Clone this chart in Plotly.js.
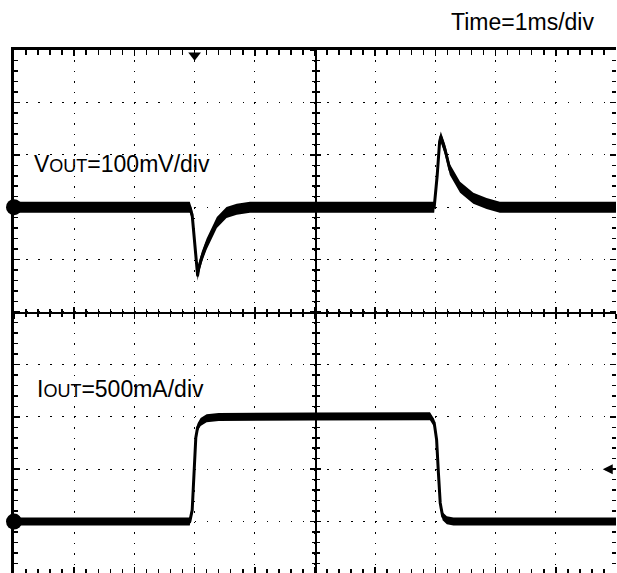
<!DOCTYPE html>
<html>
<head>
<meta charset="utf-8">
<script src="https://cdn.plot.ly/plotly-3.0.1.min.js"></script>
<style>
html,body{margin:0;padding:0;background:#fff;}
#chart{width:617px;height:573px;}
.scatterlayer .js-line{stroke-linejoin:round;stroke-linecap:round;}
</style>
</head>
<body>
<div id="chart"></div>
<script>
// ---- data (time in ms, Vout deviation in mV, Iout in mA) ----
const VOUT_T_MS = [0, 2.92, 2.96, 3.01, 3.05, 3.07, 3.12, 3.20, 3.37, 3.53, 3.70, 3.92, 6.98, 7.03, 7.07, 7.09, 7.16, 7.24, 7.41, 7.63, 7.85, 8.07, 10];
const VOUT_MV   = [0, 0, -15, -72, -130, -116, -95, -70, -29, -10, -4, 0, 0, 61, 125, 134, 110, 72, 38, 17, 7, 0, 0];
const IOUT_T_MS = [0, 2.92, 2.96, 2.99, 3.02, 3.05, 3.10, 3.20, 3.40, 5.0, 6.91, 6.98, 7.02, 7.05, 7.08, 7.12, 7.19, 7.30, 10];
const IOUT_MA   = [0, 0, 110, 480, 800, 900, 950, 985, 998, 1003, 1005, 942, 782, 465, 178, 50, 12, 0, 0];

const VOUT_MV_PER_DIV = 100;
const IOUT_MA_PER_DIV = 500;
const VOUT_OFFSET_DIV = 2;
const IOUT_OFFSET_DIV = -4;
const MS_PER_DIV = 1;
const TRIGGER_MS = 3;
const TRIGGER_LEVEL_MA = 500;
const LABELS = ['Time=1ms/div', 'V<span style="font-size:18px">OUT</span>=100mV/div', 'I<span style="font-size:18px">OUT</span>=500mA/div'];

// ---- build ----
const XR = [0, 10];
const YR = [-5 + 1/52.4, 5];
const vY = VOUT_MV.map(v => VOUT_OFFSET_DIV + v / VOUT_MV_PER_DIV);
const iY = IOUT_MA.map(v => IOUT_OFFSET_DIV + v / IOUT_MA_PER_DIV);
const vX = VOUT_T_MS.map(t => t / MS_PER_DIV);
const iX = IOUT_T_MS.map(t => t / MS_PER_DIV);

// noise band (vertical half-thickness in divisions) drawn as a filled envelope around each trace
function band(xs, ys, half) {
  const bx = xs.concat(xs.slice().reverse());
  const by = ys.map(y => y + half).concat(ys.slice().reverse().map(y => y - half));
  return {x: bx, y: by, mode: 'lines', fill: 'toself', fillcolor: '#000', line: {width: 0, color: '#000'}, hoverinfo: 'skip'};
}

const FONT = 'Liberation Sans, Arial, sans-serif';
const traces = [
  band(vX, vY, 5.5 / 52.4),
  {x: vX, y: vY, mode: 'lines', line: {color: '#000', width: 3}, hoverinfo: 'skip'},
  band(iX, iY, 4 / 52.4),
  {x: iX, y: iY, mode: 'lines', line: {color: '#000', width: 3}, hoverinfo: 'skip'},
  // channel ground markers
  {x: [XR[0], XR[0]], y: [VOUT_OFFSET_DIV, IOUT_OFFSET_DIV], mode: 'markers',
   marker: {color: '#000', size: 16}, cliponaxis: false, hoverinfo: 'skip'},
  // trigger position marker
  {x: [TRIGGER_MS / MS_PER_DIV], y: [YR[1] - 0.1], mode: 'markers',
   marker: {color: '#000', size: 11, symbol: 'triangle-down'}, cliponaxis: false, hoverinfo: 'skip'},
  // invisible carriers for the extra graticule axes
  {x: vX, y: vY, mode: 'none', xaxis: 'x2', yaxis: 'y', hoverinfo: 'skip'},
  {x: vX, y: vY, mode: 'none', xaxis: 'x3', yaxis: 'y', hoverinfo: 'skip'},
  {x: vX, y: vY, mode: 'none', xaxis: 'x4', yaxis: 'y', hoverinfo: 'skip'},
  {x: vX, y: vY, mode: 'none', xaxis: 'x', yaxis: 'y2', hoverinfo: 'skip'},
  {x: vX, y: vY, mode: 'none', xaxis: 'x', yaxis: 'y3', hoverinfo: 'skip'},
  {x: vX, y: vY, mode: 'none', xaxis: 'x', yaxis: 'y4', hoverinfo: 'skip'}
];

const minorT = (dir, len) => ({dtick: 0.2, tick0: 0, ticks: dir, ticklen: len, tickwidth: 1.5, tickcolor: '#000', showgrid: false});
const tickAx = (extra) => Object.assign({
  showticklabels: false, showgrid: false, zeroline: false, fixedrange: true,
  tick0: 0, dtick: 1, ticklen: 6, tickwidth: 1.5, tickcolor: '#000', automargin: false
}, extra);

const centerY = (0 - YR[0]) / (YR[1] - YR[0]);
const centerX = (5 - XR[0]) / (XR[1] - XR[0]);

const layout = {
  width: 617, height: 573,
  margin: {l: 14, r: 1, t: 50, b: 0, pad: 0},
  paper_bgcolor: '#fff', plot_bgcolor: 'rgba(0,0,0,0)',
  showlegend: false,
  font: {family: FONT, color: '#000'},
  xaxis: tickAx({range: XR, side: 'top', anchor: 'y', showline: true, linewidth: 3, linecolor: '#000',
    ticks: 'inside', minor: minorT('inside', 5),
    showgrid: true, gridcolor: '#000', gridwidth: 1.3, griddash: '1.5px,8.98px'}),
  xaxis2: tickAx({range: XR, overlaying: 'x', side: 'bottom', anchor: 'y', showline: false,
    ticks: 'inside', minor: minorT('inside', 4)}),
  xaxis3: tickAx({range: XR, overlaying: 'x', side: 'bottom', anchor: 'free', position: centerY, showline: true, linewidth: 1.5, linecolor: '#000',
    ticks: 'outside', ticklen: 5, minor: minorT('outside', 3.5)}),
  xaxis4: tickAx({range: XR, overlaying: 'x', side: 'bottom', anchor: 'free', position: centerY, showline: false,
    ticks: 'inside', ticklen: 5, minor: minorT('inside', 3.5)}),
  yaxis: tickAx({range: YR, side: 'left', anchor: 'x', showline: true, linewidth: 3, linecolor: '#000',
    ticks: 'inside', minor: minorT('inside', 4),
    showgrid: true, gridcolor: '#000', gridwidth: 1.3, griddash: '1.5px,10.54px'}),
  yaxis2: tickAx({range: YR, overlaying: 'y', side: 'right', anchor: 'x', showline: false,
    ticks: 'inside', minor: minorT('inside', 4)}),
  yaxis3: tickAx({range: YR, overlaying: 'y', side: 'left', anchor: 'free', position: centerX, showline: true, linewidth: 1.5, linecolor: '#000',
    ticks: 'outside', ticklen: 5, minor: minorT('outside', 3.5)}),
  yaxis4: tickAx({range: YR, overlaying: 'y', side: 'left', anchor: 'free', position: centerX, showline: false,
    ticks: 'inside', ticklen: 5, minor: minorT('inside', 3.5)}),
  annotations: [
    {text: LABELS[0], xref: 'paper', yref: 'paper', x: 0.722, y: 1.0535, xanchor: 'left', yanchor: 'middle',
     showarrow: false, font: {family: FONT, size: 23, color: '#000'}},
    {text: LABELS[1], xref: 'paper', yref: 'paper', x: 0.030, y: 0.7826, xanchor: 'left', yanchor: 'middle',
     showarrow: false, font: {family: FONT, size: 23, color: '#000'}},
    {text: LABELS[2], xref: 'paper', yref: 'paper', x: 0.035, y: 0.3518, xanchor: 'left', yanchor: 'middle',
     showarrow: false, font: {family: FONT, size: 23, color: '#000'}},
    {text: '', x: XR[1] - 0.22, y: IOUT_OFFSET_DIV + TRIGGER_LEVEL_MA / IOUT_MA_PER_DIV, xref: 'x', yref: 'y',
     showarrow: true, ax: 12, ay: 0, arrowhead: 2, arrowsize: 1, arrowwidth: 2, arrowcolor: '#000', standoff: 0, startstandoff: 0}
  ]
};

Plotly.newPlot('chart', traces, layout, {staticPlot: true, displayModeBar: false});
</script>
</body>
</html>
